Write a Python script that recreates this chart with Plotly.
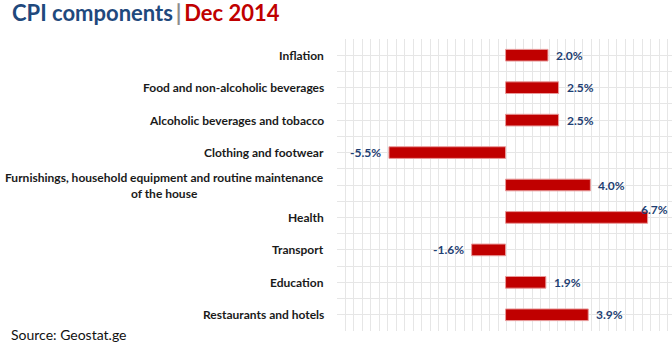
import plotly.graph_objects as go

categories = [
    "Inflation",
    "Food and non-alcoholic beverages",
    "Alcoholic beverages and tobacco",
    "Clothing and footwear",
    "Furnishings, household equipment and routine maintenance<br>of the house",
    "Health",
    "Transport",
    "Education",
    "Restaurants and hotels",
]
values = [2.0, 2.5, 2.5, -5.5, 4.0, 6.7, -1.6, 1.9, 3.9]
title_main = "CPI components"
title_date = "Dec 2014"
source_text = "Source: Geostat.ge"

W, H = 672, 344
ML, MR, MT, MB = 337, 0, 38.5, 12.5
XR = [-7.95, 7.85]
N_XCELLS = 39.5  # spreadsheet-like grid columns across the plot

FONT = "Lato"
NAVY = "#1F3F73"
RED = "#C00000"
GRID = "#E6E6E6"

pos = list(range(len(categories)))

fig = go.Figure()
fig.add_trace(go.Bar(
    x=values, y=pos, orientation="h",
    marker=dict(color=RED, line=dict(color="#E89A9A", width=1)),
    width=0.36, showlegend=False, hoverinfo="skip",
))

annotations = []
for p, c in zip(pos, categories):
    annotations.append(dict(
        xref="paper", yref="y", x=0, y=p, xanchor="right", yanchor="middle",
        xshift=-11, text="<b>" + c + "</b>", showarrow=False, align="center",
        font=dict(family=FONT, size=12, color="#1a1a1a"),
    ))
for p, v in zip(pos, values):
    lab = "<b>%.1f%%</b>" % v
    if v > XR[1] - 1.5:
        a = dict(xanchor="right", xshift=22, yshift=8)
    elif v >= 0:
        a = dict(xanchor="left", xshift=6)
    else:
        a = dict(xanchor="right", xshift=-6)
    annotations.append(dict(
        xref="x", yref="y", x=v, y=p, yanchor="middle", text=lab,
        showarrow=False, font=dict(family=FONT, size=12, color=NAVY), **a,
    ))
annotations.append(dict(
    xref="paper", yref="paper", x=(9 - ML) / (W - ML - MR), y=0,
    xanchor="left", yanchor="middle", yshift=-3.5, text=source_text, showarrow=False,
    font=dict(family=FONT, size=14, color="#111111"),
))

fig.update_layout(
    width=W, height=H,
    margin=dict(l=ML, r=MR, t=MT, b=MB),
    paper_bgcolor="white", plot_bgcolor="white",
    title=dict(
        text=("<b><span style='color:#1F497D'>%s</span>"
              "<span style='color:#8C8C8C'>\u2009|\u2009</span>"
              "<span style='color:%s'>%s</span></b>") % (title_main, RED, title_date),
        xref="container", yref="container", x=12 / W, xanchor="left",
        y=1 - 13 / H, yanchor="middle",
        font=dict(family=FONT, size=22),
    ),
    xaxis=dict(range=XR, tick0=XR[0], dtick=(XR[1] - XR[0]) / N_XCELLS,
               showgrid=True, gridcolor=GRID, gridwidth=1, showticklabels=False,
               ticks="", zeroline=False, showline=False),
    yaxis=dict(range=[len(categories) - 0.5, -0.5], tick0=-0.5, dtick=0.5,
               showgrid=True, gridcolor=GRID, gridwidth=1, showticklabels=False,
               ticks="", zeroline=False, showline=False),
    annotations=annotations,
)

fig.write_html("out.html")
